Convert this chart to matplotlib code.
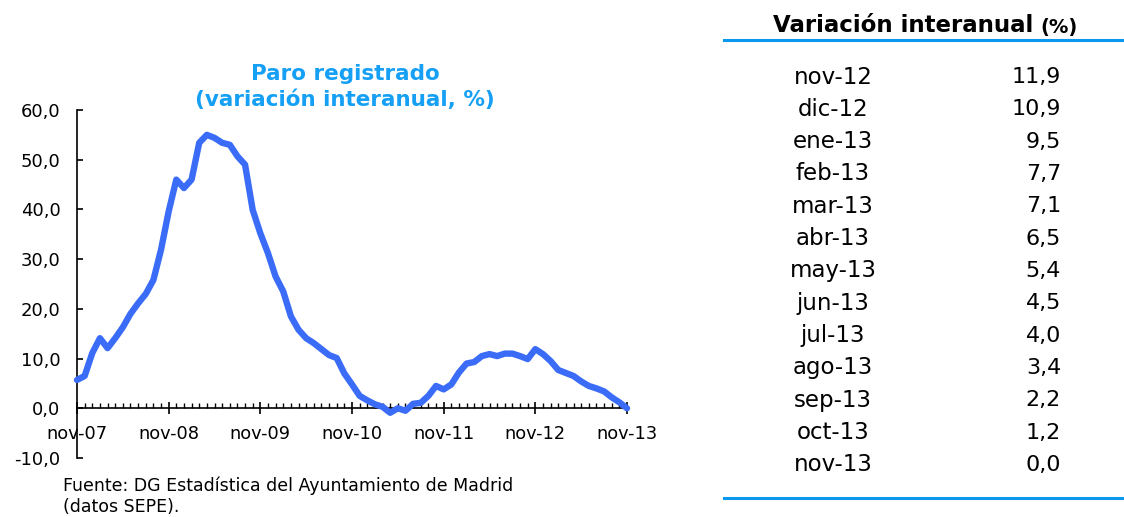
import matplotlib
matplotlib.use("Agg")
import matplotlib.pyplot as plt
import numpy as np

W, H = 1124, 517

# Paro registrado, variacion interanual (%), nov-07 .. oct-12
serie_hist = [5.7, 6.5, 11.1, 14.1, 12.1, 14.1, 16.3, 19.0, 21.1, 23.0, 25.8, 31.9,
              39.6, 46.0, 44.3, 46.0, 53.4, 55.0, 54.4, 53.4, 53.0, 50.7, 49.0, 39.9,
              35.2, 31.2, 26.5, 23.5, 18.5, 15.8, 14.1, 13.1, 11.9, 10.7, 10.1, 7.0,
              4.8, 2.5, 1.6, 0.8, 0.3, -0.9, 0.0, -0.5, 0.9, 1.1, 2.5, 4.5,
              3.8, 4.8, 7.2, 9.0, 9.3, 10.5, 10.9, 10.5, 11.0, 11.0, 10.5, 9.9]

# tabla: nov-12 .. nov-13
tabla_meses = ["nov-12", "dic-12", "ene-13", "feb-13", "mar-13", "abr-13", "may-13",
               "jun-13", "jul-13", "ago-13", "sep-13", "oct-13", "nov-13"]
tabla_valores = [11.9, 10.9, 9.5, 7.7, 7.1, 6.5, 5.4, 4.5, 4.0, 3.4, 2.2, 1.2, 0.0]

x_labels = ["nov-07", "nov-08", "nov-09", "nov-10", "nov-11", "nov-12", "nov-13"]
y_ticks = [-10, 0, 10, 20, 30, 40, 50, 60]

serie = serie_hist + tabla_valores
meses = np.arange(len(serie))

azul_linea = "#3B6CF8"
azul_titulo = "#16A0F5"
azul_raya = "#0A97EE"


def fx(px):
    return px / W


def fy(py):
    return 1 - py / H


fig = plt.figure(figsize=(W / 100, H / 100), dpi=100)

# grafico
ax = fig.add_axes([fx(77), fy(458), (627 - 77) / W, (458 - 110) / H])
ax.plot(meses, serie, color=azul_linea, lw=4.6, solid_capstyle="round",
        solid_joinstyle="round", clip_on=False, zorder=3)
ax.set_xlim(0, 72)
ax.set_ylim(-10, 60)

ax.spines["top"].set_visible(False)
ax.spines["right"].set_visible(False)
ax.spines["bottom"].set_position(("data", 0))
for s in ("left", "bottom"):
    ax.spines[s].set_linewidth(1.2)

ax.set_xticks(np.arange(0, 73, 12))
ax.set_xticklabels(x_labels)
ax.set_xticks(np.arange(0, 73, 1), minor=True)
ax.tick_params(axis="x", which="major", direction="inout", length=8, width=1.2,
               pad=8, labelsize=12.8)
ax.tick_params(axis="x", which="minor", direction="in", length=3.5, width=1.0)

ax.set_yticks(y_ticks)
ax.set_yticklabels([f"{v:.1f}".replace(".", ",") for v in y_ticks])
ax.tick_params(axis="y", direction="in", length=4, width=1.2, pad=12, labelsize=13)

fig.text(fx(345), fy(87), "Paro registrado\n(variación interanual, %)",
         ha="center", va="center", fontsize=15.5, fontweight="bold",
         color=azul_titulo, linespacing=1.3)

fig.text(fx(63), fy(496), "Fuente: DG Estadística del Ayuntamiento de Madrid\n(datos SEPE).",
         ha="left", va="center", fontsize=12.5, linespacing=1.2)

# tabla
fig.text(fx(1033), fy(26), "Variación interanual", ha="right", va="center",
         fontsize=16.5, fontweight="bold")
fig.text(fx(1040), fy(28), "(%)", ha="left", va="center",
         fontsize=14, fontweight="bold")
fig.add_artist(plt.Line2D([fx(724), fx(1124)], [fy(40), fy(40)], color=azul_raya, lw=2.2))
fig.add_artist(plt.Line2D([fx(724), fx(1124)], [fy(498), fy(498)], color=azul_raya, lw=2.2))

for i, (mes, val) in enumerate(zip(tabla_meses, tabla_valores)):
    y = 77 + i * 32.33
    fig.text(fx(833), fy(y), mes, ha="center", va="center", fontsize=16.5)
    fig.text(fx(1061), fy(y), f"{val:.1f}".replace(".", ","), ha="right", va="center",
             fontsize=16)

fig.savefig("out.png", dpi=100)
